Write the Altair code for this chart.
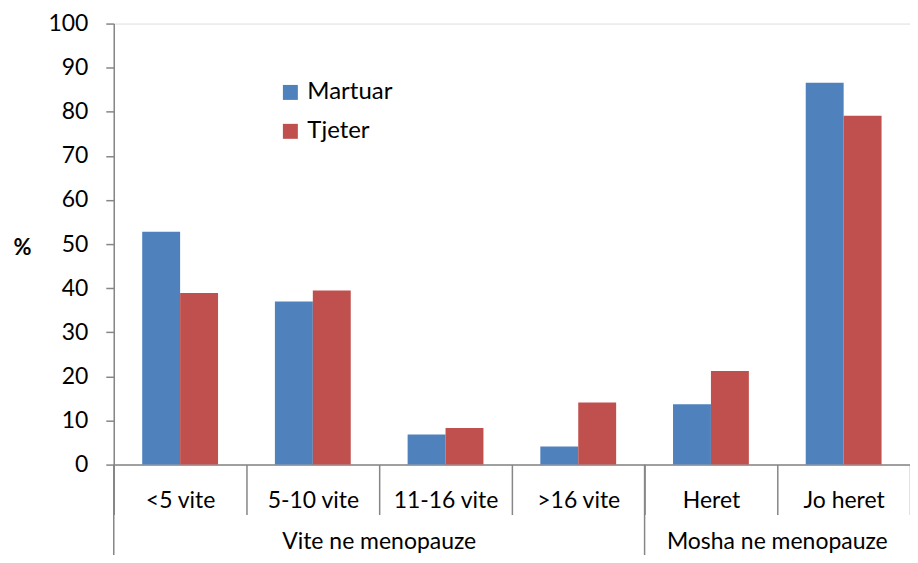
import altair as alt
import pandas as pd

categories = ["<5 vite", "5-10 vite", "11-16 vite", ">16 vite", "Heret", "Jo heret"]
series = ["Martuar", "Tjeter"]
martuar = [52.8, 37.0, 6.8, 4.1, 13.7, 86.6]
tjeter = [38.9, 39.5, 8.3, 14.1, 21.2, 79.1]
groups = ["Vite ne menopauze", "Mosha ne menopauze"]
group_start = ["<5 vite", "Heret"]
group_mid = ["11-16 vite", "Jo heret"]
colors = ["#4F81BD", "#C0504D"]

rows = []
for c, m, t in zip(categories, martuar, tjeter):
    rows.append({"cat": c, "series": "Martuar", "value": m})
    rows.append({"cat": c, "series": "Tjeter", "value": t})
df = pd.DataFrame(rows)
gdf = pd.DataFrame({"group": groups, "start": group_start, "mid": group_mid})

W = 798
H = 442
FONT = "Lato"
AX = "#868686"

xscale = alt.Scale(domain=categories, paddingInner=0, paddingOuter=0)
xaxis = alt.Axis(tickBand="extent", tickSize=50, labelPadding=-14,
                 labelBaseline="middle", labelFontSize=23, labelFont=FONT,
                 labelColor="#000000", labelAngle=0, domainColor=AX,
                 tickColor=AX, domainWidth=1.5, tickWidth=1.5, title=None)

bars = alt.Chart(df).mark_bar().encode(
    x=alt.X("cat:N", sort=categories, scale=xscale, axis=xaxis),
    xOffset=alt.XOffset("series:N", sort=series, scale=alt.Scale(paddingOuter=0.75, paddingInner=0)),
    y=alt.Y("value:Q", scale=alt.Scale(domain=[0, 100], nice=False),
            axis=alt.Axis(values=list(range(0, 101, 10)), grid=False, tickSize=8,
                          labelPadding=18, labelFontSize=23, labelFont=FONT,
                          labelColor="#000000", domainColor=AX, tickColor=AX,
                          domainWidth=1.5, tickWidth=1.5,
                          title="%", titleAngle=0, titleFontSize=22, titleFont=FONT,
                          titleFontWeight="bold", titleX=-92, titleY=224,
                          titleAlign="center", titleBaseline="middle")),
    color=alt.Color("series:N", sort=series, scale=alt.Scale(domain=series, range=colors),
                    legend=alt.Legend(title=None, orient="none", legendX=165, legendY=57,
                                      symbolType="square", symbolSize=225, symbolStrokeWidth=0,
                                      labelFontSize=24, labelFont=FONT, labelColor="#000000",
                                      labelOffset=5, rowPadding=15, padding=0)),
)

seps = alt.Chart(gdf).mark_rule(color=AX, strokeWidth=1.5).encode(
    x=alt.X("start:N", sort=categories, scale=xscale, bandPosition=0, axis=xaxis),
    y=alt.value(H),
    y2=alt.value(H + 100),
)

glabels = alt.Chart(gdf).mark_text(font=FONT, fontSize=23, color="#000000", baseline="middle").encode(
    x=alt.X("mid:N", sort=categories, scale=xscale, bandPosition=0, axis=xaxis),
    y=alt.value(H + 78),
    text="group:N",
)

chart = alt.layer(bars, seps, glabels).properties(
    width=W, height=H,
    autosize=alt.AutoSizeParams(type="none"),
    padding={"left": 106, "top": 15, "right": 0, "bottom": 90},
).configure_view(stroke=None).configure(font=FONT, background="white")

chart.save("out.html", embed_options={"renderer": "svg", "actions": False})
